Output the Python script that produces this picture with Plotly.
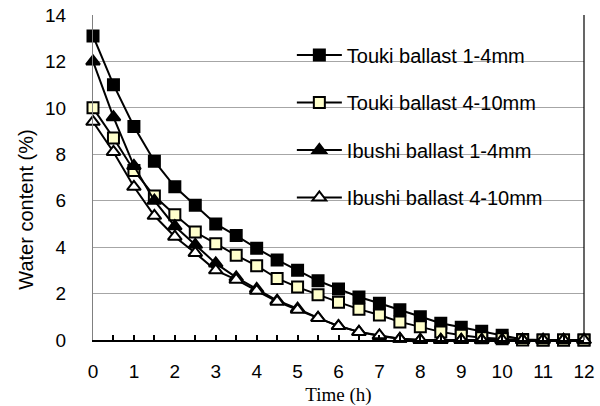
import plotly.graph_objects as go

time_h = [0, 0.5, 1, 1.5, 2, 2.5, 3, 3.5, 4, 4.5, 5, 5.5, 6, 6.5, 7, 7.5, 8, 8.5, 9, 9.5, 10, 10.5, 11, 11.5, 12]

touki_1_4 = [13.1, 11.0, 9.2, 7.7, 6.6, 5.8, 5.0, 4.5, 3.95, 3.45, 3.0, 2.55, 2.2, 1.85, 1.58, 1.3, 1.0, 0.72, 0.55, 0.38, 0.2, 0.02, 0.0, 0.0, 0.0]
touki_4_10 = [10.0, 8.7, 7.3, 6.2, 5.4, 4.65, 4.15, 3.65, 3.2, 2.65, 2.28, 1.95, 1.63, 1.33, 1.08, 0.78, 0.57, 0.35, 0.2, 0.1, 0.05, 0.0, 0.0, 0.0, 0.0]
ibushi_1_4 = [12.0, 9.6, 7.5, 6.0, 4.9, 4.1, 3.3, 2.7, 2.2, 1.7, 1.35, 0.95, 0.6, 0.35, 0.17, 0.05, 0.0, 0.0, 0.0, 0.0, 0.0, 0.0, 0.0, 0.0, 0.0]
ibushi_4_10 = [9.4, 8.1, 6.6, 5.35, 4.45, 3.75, 3.0, 2.6, 2.12, 1.65, 1.3, 0.95, 0.6, 0.35, 0.2, 0.05, 0.0, 0.0, 0.0, 0.0, 0.0, 0.0, 0.0, 0.0, 0.0]

series_names = ["Touki ballast 1-4mm", "Touki ballast 4-10mm", "Ibushi ballast 1-4mm", "Ibushi ballast 4-10mm"]
x_ticks = list(range(0, 13))
y_ticks = list(range(0, 15, 2))

FONT = "Liberation Sans, Arial, sans-serif"

styles = [
    dict(symbol="square", color="black"),
    dict(symbol="square", color="#FFFFCC"),
    dict(symbol="triangle-up", color="black"),
    dict(symbol="triangle-up", color="white"),
]

fig = go.Figure()
for i, (name, vals, st) in enumerate(zip(series_names, [touki_1_4, touki_4_10, ibushi_1_4, ibushi_4_10], styles)):
    fig.add_trace(go.Scatter(
        x=time_h, y=vals, name=name, mode="lines+markers",
        line=dict(color="black", width=2),
        marker=dict(symbol=st["symbol"], size=11 if st["symbol"] == "square" else 12,
                    color=st["color"], line=dict(color="black", width=2)),
        cliponaxis=False, legendgroup=f"g{i}",
    ))

fig.add_shape(type="line", xref="paper", yref="paper", x0=1, x1=1, y0=0, y1=1,
              line=dict(color="black", width=1.2))

# y-axis title placed as rotated text (sits a little below the axis centre in the reference)
fig.add_annotation(text="Water content (%)", textangle=-90, showarrow=False,
                   xref="paper", yref="paper", x=-0.137, y=0.40,
                   xanchor="center", yanchor="middle",
                   font=dict(size=20, family=FONT, color="black"))

fig.update_layout(
    width=600, height=406,
    margin=dict(l=93, r=16, t=15, b=66),
    paper_bgcolor="white", plot_bgcolor="white",
    font=dict(family=FONT, size=18, color="black"),
    showlegend=True,
    legend=dict(x=0.405, y=0.937, xanchor="left", yanchor="top",
                bgcolor="rgba(0,0,0,0)", font=dict(size=20, family=FONT),
                tracegroupgap=18.5, itemwidth=45),
    xaxis=dict(
        range=[0, 12], tickvals=x_ticks, ticktext=[str(v) for v in x_ticks],
        showgrid=False, zeroline=False, automargin=False,
        showline=True, linecolor="black", linewidth=2,
        ticks="inside", ticklen=5, tickcolor="black", tickwidth=1.5,
        minor=dict(dtick=0.5, ticks="inside", ticklen=5, tickcolor="black", tickwidth=1.5),
        ticklabelstandoff=13,
        tickfont=dict(size=19, family=FONT),
        title=dict(text="Time (h)", font=dict(family="Liberation Serif, serif", size=19), standoff=8),
    ),
    yaxis=dict(
        range=[0, 14], tickvals=y_ticks, ticktext=[str(v) for v in y_ticks],
        showgrid=True, gridcolor="#a6a6a6", gridwidth=1,
        zeroline=False, showline=True, linecolor="#808080", linewidth=1,
        ticks="", ticklabelstandoff=22, automargin=False,
        tickfont=dict(size=19, family=FONT),
    ),
)

fig.write_html("out.html")
